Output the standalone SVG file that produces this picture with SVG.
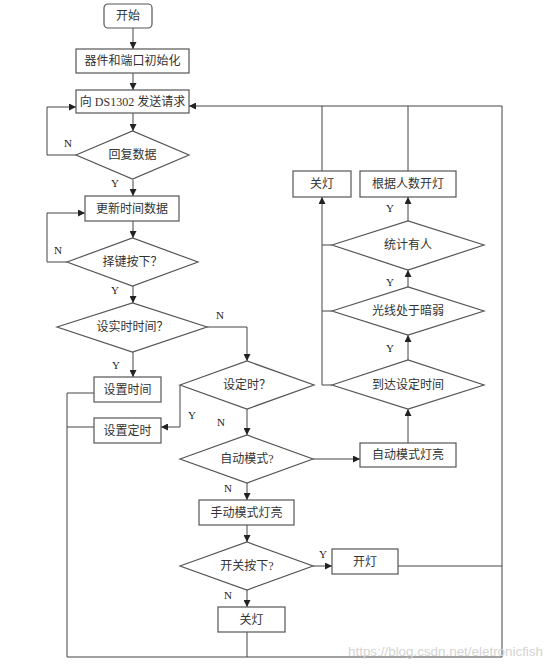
<svg xmlns="http://www.w3.org/2000/svg" width="550" height="666" viewBox="0 0 550 666">
<defs>
<marker id="ah" viewBox="0 0 10 10" refX="10" refY="5" markerWidth="7" markerHeight="7" markerUnits="userSpaceOnUse" orient="auto">
<path d="M0,0 L10,5 L0,10 z" fill="#222"/>
</marker>
<style>
.n rect,.n polygon{fill:#fff;stroke:#555;stroke-width:1.2}
.n text{font-family:"Liberation Serif","Noto Sans CJK SC",serif;font-size:12px;fill:#333;text-anchor:middle}
#connectors path,#connectors line{fill:none;stroke:#444;stroke-width:1}
.arr{marker-end:url(#ah)}
.lb{font-family:"Liberation Serif","Noto Sans CJK SC",serif;font-size:11px;fill:#222;text-anchor:middle}
.wm{font-family:"Liberation Sans",sans-serif;font-size:13px;fill:#d4d4d4}
</style>
</defs>
<rect width="550" height="666" fill="#fff"/>
<g id="connectors">
<path class="arr" d="M133,28 V49"/>
<path class="arr" d="M133,73 V90"/>
<path class="arr" d="M133,113 V131"/>
<path class="arr" d="M133,180 V196"/>
<path class="arr" d="M76,155 H47 V107 H76"/>
<path class="arr" d="M133,221 V238"/>
<path class="arr" d="M67,262 H47 V213 H85"/>
<path class="arr" d="M133,286 V303"/>
<path class="arr" d="M133,352 V377"/>
<path class="arr" d="M207,327 H247 V361"/>
<path class="arr" d="M180,385 V427 H161"/>
<path class="arr" d="M247,409 V435"/>
<path class="arr" d="M313,459 H360"/>
<path class="arr" d="M247,483 V500"/>
<path class="arr" d="M247,525 V542"/>
<path class="arr" d="M313,566 H332"/>
<path class="arr" d="M247,590 V607"/>
<path d="M247,632 V657"/>
<path d="M67,393 H94"/>
<path d="M67,427 H94"/>
<path d="M67,393 V657 H502"/>
<path class="arr" d="M502,657 V106 H189"/>
<path d="M398,566 H502"/>
<path class="arr" d="M408,443 V409"/>
<path class="arr" d="M408,360 V335"/>
<path class="arr" d="M408,287 V270"/>
<path class="arr" d="M408,221 V197"/>
<path class="arr" d="M332,385 H322 V197"/>
<path d="M332,311 H322"/>
<path d="M332,245 H322"/>
<path d="M322,171 V106"/>
<path d="M408,171 V106"/>
<text class="lb" x="68" y="147">N</text>
<text class="lb" x="115" y="187">Y</text>
<text class="lb" x="58" y="254">N</text>
<text class="lb" x="115" y="294">Y</text>
<text class="lb" x="220" y="319">N</text>
<text class="lb" x="116" y="369">Y</text>
<text class="lb" x="192" y="419">Y</text>
<text class="lb" x="221" y="426">N</text>
<text class="lb" x="228" y="492">N</text>
<text class="lb" x="323" y="558">Y</text>
<text class="lb" x="228" y="599">N</text>
<text class="lb" x="390" y="212">Y</text>
<text class="lb" x="390" y="286">Y</text>
<text class="lb" x="390" y="352">Y</text>
</g>
<g id="start" class="n"><rect x="104" y="4" width="48" height="24" rx="4"/><text x="128" y="20">开始</text></g>
<g id="init" class="n"><rect x="76" y="49" width="113" height="24"/><text x="132.5" y="65">器件和端口初始化</text></g>
<g id="request" class="n"><rect x="76" y="90" width="113" height="23"/><text x="132.5" y="106">向 DS1302 发送请求</text></g>
<g id="reply" class="n"><polygon points="76,155 132.5,131 189,155 132.5,179"/><text x="132.5" y="159">回复数据</text></g>
<g id="update" class="n"><rect x="85" y="196" width="94" height="25"/><text x="132" y="212.5">更新时间数据</text></g>
<g id="keypress" class="n"><polygon points="67,262 132.5,238 198,262 132.5,286"/><text x="132.5" y="266">择键按下？</text></g>
<g id="setrt" class="n"><polygon points="57,327 132.5,303 207,327 132.5,352"/><text x="132.5" y="331">设实时时间？</text></g>
<g id="settime" class="n"><rect x="94" y="377" width="67" height="25"/><text x="127.5" y="393.5">设置时间</text></g>
<g id="settimer" class="n"><rect x="94" y="418" width="67" height="25"/><text x="127.5" y="434.5">设置定时</text></g>
<g id="timerq" class="n"><polygon points="180,385 247,361 314,385 247,409"/><text x="247" y="389">设定时？</text></g>
<g id="autoq" class="n"><polygon points="180,459 247,435 313,459 247,483"/><text x="247" y="463">自动模式?</text></g>
<g id="autolight" class="n"><rect x="360" y="443" width="96" height="24"/><text x="408" y="459">自动模式灯亮</text></g>
<g id="manual" class="n"><rect x="199" y="500" width="95" height="25"/><text x="246.5" y="516.5">手动模式灯亮</text></g>
<g id="switchq" class="n"><polygon points="180,566 247,542 313,566 247,590"/><text x="247" y="570">开关按下?</text></g>
<g id="lighton" class="n"><rect x="332" y="549" width="66" height="25"/><text x="365" y="565.5">开灯</text></g>
<g id="lightoff" class="n"><rect x="218" y="607" width="67" height="25"/><text x="251.5" y="623.5">关灯</text></g>
<g id="reachtime" class="n"><polygon points="332,385 408,360 484,385 408,409"/><text x="408" y="389">到达设定时间</text></g>
<g id="dark" class="n"><polygon points="332,311 408,287 484,311 408,335"/><text x="408" y="315">光线处于暗弱</text></g>
<g id="someone" class="n"><polygon points="332,245 408,221 484,245 408,270"/><text x="408" y="249">统计有人</text></g>
<g id="off2" class="n"><rect x="293" y="171" width="58" height="26"/><text x="322" y="188">关灯</text></g>
<g id="bycount" class="n"><rect x="360" y="171" width="96" height="26"/><text x="408" y="188">根据人数开灯</text></g>
<text class="wm" x="348" y="656" textLength="195" lengthAdjust="spacingAndGlyphs">https://blog.csdn.net/eletronicfish</text>
</svg>
